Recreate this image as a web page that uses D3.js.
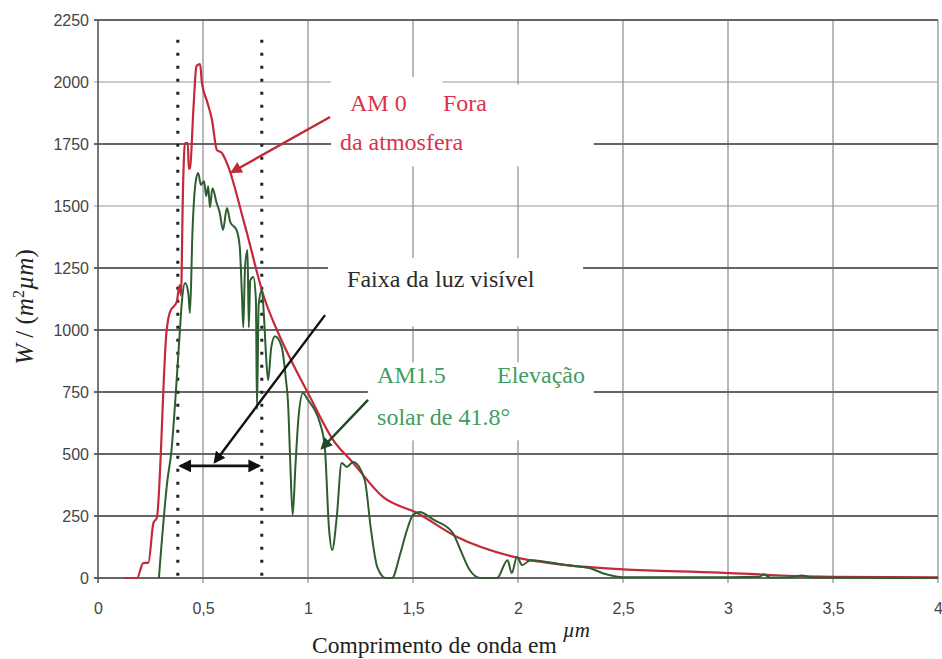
<!DOCTYPE html>
<html>
<head>
<meta charset="utf-8">
<script src="https://cdn.jsdelivr.net/npm/d3@7"></script>
<style>
  body { margin: 0; background: #fff; }
  svg { display: block; }
  .tick text { font-family: "Liberation Sans", Arial, sans-serif; fill: #444; }
  .anot { font-family: "Liberation Serif", "Times New Roman", serif; }
</style>
</head>
<body>
<div id="graf"></div>
<script>
// Rozměry obrázku
var width = 942, height = 659;

// Osy - hodnoty a popisky
var xTicks = [0, 0.5, 1, 1.5, 2, 2.5, 3, 3.5, 4];
var xTickLabels = ["0", "0,5", "1", "1,5", "2", "2,5", "3", "3,5", "4"];
var yTicks = [0, 250, 500, 750, 1000, 1250, 1500, 1750, 2000, 2250];

// AM 0 - mimo atmosféru (vlnová délka v µm, W/(m2 µm))
var am0X = [0.12, 0.186, 0.215, 0.24, 0.264, 0.28, 0.327, 0.343, 0.375, 0.388, 0.395, 0.405, 0.414, 0.428, 0.432, 0.438, 0.455, 0.468, 0.476, 0.486,
            0.495, 0.52, 0.543, 0.566, 0.59, 0.614, 0.7, 0.795, 0.852, 0.93, 1.0, 1.12, 1.215, 1.357, 1.52, 1.71, 1.98, 2.23, 2.5, 2.96, 3.2, 3.5, 4.0];
var am0Y = [0, 0, 60, 62, 222, 242, 1000, 1073, 1113, 1180, 1140, 1577, 1754, 1754, 1650, 1653, 1900, 2060, 2070, 2072,
            1996, 1920, 1847, 1726, 1714, 1673, 1420, 1121, 1000, 860, 746, 556, 464, 327, 262, 165, 85, 52, 35, 22, 12, 5, 3];

// AM 1.5 - elevace 41.8°
var am15X = [0.29, 0.33, 0.35, 0.37, 0.39, 0.40, 0.415, 0.43, 0.438, 0.45, 0.465, 0.477, 0.49, 0.505, 0.515, 0.525, 0.533, 0.545, 0.565, 0.58,
             0.595, 0.614, 0.63, 0.66, 0.675, 0.685, 0.692, 0.70, 0.712, 0.718, 0.725, 0.74, 0.752, 0.757, 0.765, 0.78, 0.79, 0.80, 0.81, 0.825,
             0.843, 0.875, 0.895, 0.905, 0.915, 0.927, 0.94, 0.955, 0.976, 1.0, 1.03, 1.057, 1.08, 1.1, 1.115, 1.137, 1.16, 1.185, 1.215, 1.27,
             1.3, 1.33, 1.37, 1.40, 1.44, 1.47, 1.5, 1.53, 1.6, 1.69, 1.72, 1.77, 1.82, 1.9, 1.95, 1.97, 1.995, 2.02, 2.06, 2.23,
             2.34, 2.42, 2.5, 3.0, 3.15, 3.17, 3.2, 3.3, 3.35, 3.4, 4.0];
var am15Y = [0, 390, 515, 740, 1000, 1120, 1190, 1150, 1068, 1400, 1597, 1633, 1585, 1600, 1540, 1580, 1495, 1572, 1512, 1472,
             1403, 1492, 1435, 1403, 1335, 1150, 1010, 1250, 1323, 1010, 1200, 1214, 1120, 680, 1100, 1160, 1060, 900, 798, 930,
             975, 931, 800, 706, 480, 254, 450, 650, 746, 718, 680, 625, 528, 200, 113, 246, 464, 448, 468, 395,
             194, 44, 0, 0, 100, 190, 254, 266, 234, 181, 125, 32, 0, 0, 72, 20, 85, 52, 72, 52,
             40, 15, 3, 3, 5, 15, 2, 3, 10, 2, 0];

// Hranice viditelného světla
var visible = [0.38, 0.78];

// Popisky v grafu
var labelsAM0 = ["AM 0", "Fora", "da atmosfera"];
var labelsAM15 = ["AM1.5", "Elevação", "solar de 41.8°"];
var labelVis = "Faixa da luz visível";

var svg = d3.select("#graf").append("svg")
    .attr("width", width)
    .attr("height", height);

var x = d3.scaleLinear().domain([0, 4]).range([98, 938]);
var y = d3.scaleLinear().domain([0, 2250]).range([578, 20]);

// mřížka - svislé čáry
svg.append("g")
    .selectAll("line")
    .data(xTicks.slice(1))
    .enter().append("line")
    .attr("x1", d => x(d)).attr("x2", d => x(d))
    .attr("y1", y(2250)).attr("y2", y(0) + 5)
    .attr("stroke", "#8a8a8a")
    .attr("stroke-width", 1.2);

// mřížka - vodorovné čáry
svg.append("g")
    .selectAll("line")
    .data(yTicks)
    .enter().append("line")
    .attr("x1", x(0) - 4).attr("x2", x(4))
    .attr("y1", d => y(d)).attr("y2", d => y(d))
    .attr("stroke", d => (d == 2000 || d == 1500) ? "#999" : "#666")
    .attr("stroke-width", d => (d == 2000 || d == 1500) ? 1.2 : 1.8);

// levá osa
svg.append("line")
    .attr("x1", x(0)).attr("x2", x(0))
    .attr("y1", y(2250)).attr("y2", y(0) + 5)
    .attr("stroke", "#555").attr("stroke-width", 1.6);

// popisky os
var xAxis = d3.axisBottom(x).tickValues(xTicks).tickSize(0).tickPadding(0)
    .tickFormat((d, i) => xTickLabels[i]);
var gx = svg.append("g").attr("transform", "translate(0," + (y(0) + 30) + ")").call(xAxis);
gx.select(".domain").remove();
gx.selectAll("text").attr("font-size", 16).attr("dy", "0.35em").attr("y", 0);

var yAxis = d3.axisLeft(y).tickValues(yTicks).tickSize(0).tickPadding(0)
    .tickFormat(d3.format("d"));
var gy = svg.append("g").attr("transform", "translate(" + (x(0) - 9) + ",0)").call(yAxis);
gy.select(".domain").remove();
gy.selectAll("text").attr("font-size", 16);

// bílé podklady pod texty
var boxes = [
    [1.11, 1.64, 2020, 1660],
    [1.64, 2.36, 1990, 1660],
    [1.095, 2.31, 1290, 1015],
    [1.285, 2.36, 870, 555]
];
svg.append("g").selectAll("rect")
    .data(boxes)
    .enter().append("rect")
    .attr("x", d => x(d[0]))
    .attr("y", d => y(d[2]))
    .attr("width", d => x(d[1]) - x(d[0]))
    .attr("height", d => y(d[3]) - y(d[2]))
    .attr("fill", "#fff");

// hranice viditelného světla - tečkované čáry
svg.append("g").selectAll("line")
    .data(visible)
    .enter().append("line")
    .attr("x1", d => x(d)).attr("x2", d => x(d))
    .attr("y1", y(2170)).attr("y2", y(0))
    .attr("stroke", "#222")
    .attr("stroke-width", 3)
    .attr("stroke-dasharray", "3 10");

// křivky
var line = d3.line()
    .x(d => x(d[0]))
    .y(d => y(d[1]))
    .curve(d3.curveMonotoneX);

svg.append("path")
    .datum(am0X.map((v, i) => [v, am0Y[i]]))
    .attr("d", line)
    .attr("fill", "none")
    .attr("stroke", "#c22a3a")
    .attr("stroke-width", 2.2)
    .attr("stroke-linejoin", "round");

svg.append("path")
    .datum(am15X.map((v, i) => [v, am15Y[i]]))
    .attr("d", line)
    .attr("fill", "none")
    .attr("stroke", "#2d5e30")
    .attr("stroke-width", 2)
    .attr("stroke-linejoin", "round");

// šipky
var defs = svg.append("defs");
function marker(id, color, orient) {
    defs.append("marker")
        .attr("id", id)
        .attr("viewBox", "0 0 10 10")
        .attr("refX", 8).attr("refY", 5)
        .attr("markerWidth", 5).attr("markerHeight", 5)
        .attr("orient", orient)
        .append("path")
        .attr("d", "M0,0 L10,5 L0,10 z")
        .attr("fill", color);
}
marker("arRed", "#c22a3a", "auto");
marker("arBlack", "#111", "auto");
marker("arGreen", "#1f4a2a", "auto");
marker("arBlackStart", "#111", "auto-start-reverse");

var arrows = [
    { from: [1.105, 1859], to: [0.638, 1637], color: "#c22a3a", m: "arRed" },
    { from: [1.081, 1060], to: [0.557, 468], color: "#111", m: "arBlack" },
    { from: [1.286, 718], to: [1.067, 524], color: "#1f4a2a", m: "arGreen" }
];
svg.append("g").selectAll("line")
    .data(arrows)
    .enter().append("line")
    .attr("x1", d => x(d.from[0])).attr("y1", d => y(d.from[1]))
    .attr("x2", d => x(d.to[0])).attr("y2", d => y(d.to[1]))
    .attr("stroke", d => d.color)
    .attr("stroke-width", 2.4)
    .attr("marker-end", d => "url(#" + d.m + ")");

// oboustranná šipka - viditelné světlo
svg.append("line")
    .attr("x1", x(visible[0]) + 3).attr("x2", x(visible[1]) - 3)
    .attr("y1", y(452)).attr("y2", y(452))
    .attr("stroke", "#111")
    .attr("stroke-width", 2.6)
    .attr("marker-start", "url(#arBlackStart)")
    .attr("marker-end", "url(#arBlack)");

// texty
var t = svg.append("g").attr("class", "anot").attr("font-size", 24);
t.append("text").attr("x", x(1.2)).attr("y", y(1885)).attr("fill", "#d8334d").text(labelsAM0[0]);
t.append("text").attr("x", x(1.643)).attr("y", y(1885)).attr("fill", "#d8334d").text(labelsAM0[1]);
t.append("text").attr("x", x(1.152)).attr("y", y(1725)).attr("fill", "#d8334d").text(labelsAM0[2]);
t.append("text").attr("x", x(1.186)).attr("y", y(1172)).attr("fill", "#2a2a2a").text(labelVis);
t.append("text").attr("x", x(1.329)).attr("y", y(786)).attr("fill", "#3f9d62").text(labelsAM15[0]);
t.append("text").attr("x", x(1.9)).attr("y", y(786)).attr("fill", "#3f9d62").text(labelsAM15[1]);
t.append("text").attr("x", x(1.329)).attr("y", y(617)).attr("fill", "#3f9d62").text(labelsAM15[2]);

// název osy x
var xt = svg.append("text").attr("class", "anot")
    .attr("x", 312).attr("y", 653)
    .attr("font-size", 23.5).attr("fill", "#222");
xt.append("tspan").text("Comprimento de onda em ");
xt.append("tspan").attr("font-style", "italic").attr("font-size", 21).attr("dy", -16).text("µm");

// název osy y
var yt = svg.append("text").attr("class", "anot")
    .attr("transform", "translate(33,307) rotate(-90)")
    .attr("text-anchor", "middle")
    .attr("font-size", 25).attr("fill", "#222");
yt.append("tspan").attr("font-style", "italic").text("W");
yt.append("tspan").text(" / (");
yt.append("tspan").attr("font-style", "italic").text("m");
yt.append("tspan").attr("font-size", 16).attr("dy", -9).text("2");
yt.append("tspan").attr("font-style", "italic").attr("dy", 9).text("µm");
yt.append("tspan").text(")");
</script>
</body>
</html>
